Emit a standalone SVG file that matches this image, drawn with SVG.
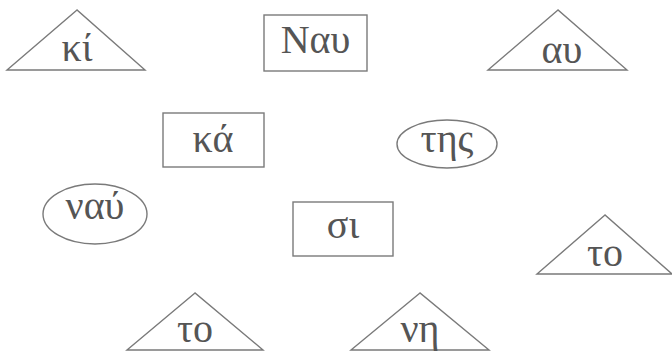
<svg xmlns="http://www.w3.org/2000/svg" width="672" height="354" viewBox="0 0 672 354">
<style>
.s{fill:none;stroke:#7a7a7a;stroke-width:1.4}
.t{font-family:"Liberation Serif","DejaVu Serif",serif;font-size:40px;fill:#555;text-anchor:middle}
</style>
<rect width="672" height="354" fill="#fff"/>
<g id="n-ki"><polygon class="s" points="77,10 7,70 145,70"/><text class="t" x="77" y="61">κί</text></g>
<g id="n-nau"><rect class="s" x="264" y="15" width="103" height="56"/><text class="t" x="315.5" y="53">Ναυ</text></g>
<g id="n-au"><polygon class="s" points="558,10 488,70 627,70"/><text class="t" x="562" y="63">αυ</text></g>
<g id="n-ka"><rect class="s" x="163" y="113" width="101" height="54"/><text class="t" x="213" y="152">κά</text></g>
<g id="n-tis"><ellipse class="s" cx="447" cy="144" rx="50" ry="24"/><text class="t" x="447" y="152">της</text></g>
<g id="n-nav"><ellipse class="s" cx="95" cy="214" rx="52" ry="30"/><text class="t" x="95" y="219">ναύ</text></g>
<g id="n-si"><rect class="s" x="293" y="202" width="100" height="54"/><text class="t" x="343" y="238">σι</text></g>
<g id="n-to1"><polygon class="s" points="605,215 537,274 672,274"/><text class="t" x="605" y="266">το</text></g>
<g id="n-to2"><polygon class="s" points="195,293 127,350 263,350"/><text class="t" x="195" y="342">το</text></g>
<g id="n-ni"><polygon class="s" points="420,293 351,350 489,350"/><text class="t" x="420" y="342">νη</text></g>
<g id="connectors"></g>
</svg>
